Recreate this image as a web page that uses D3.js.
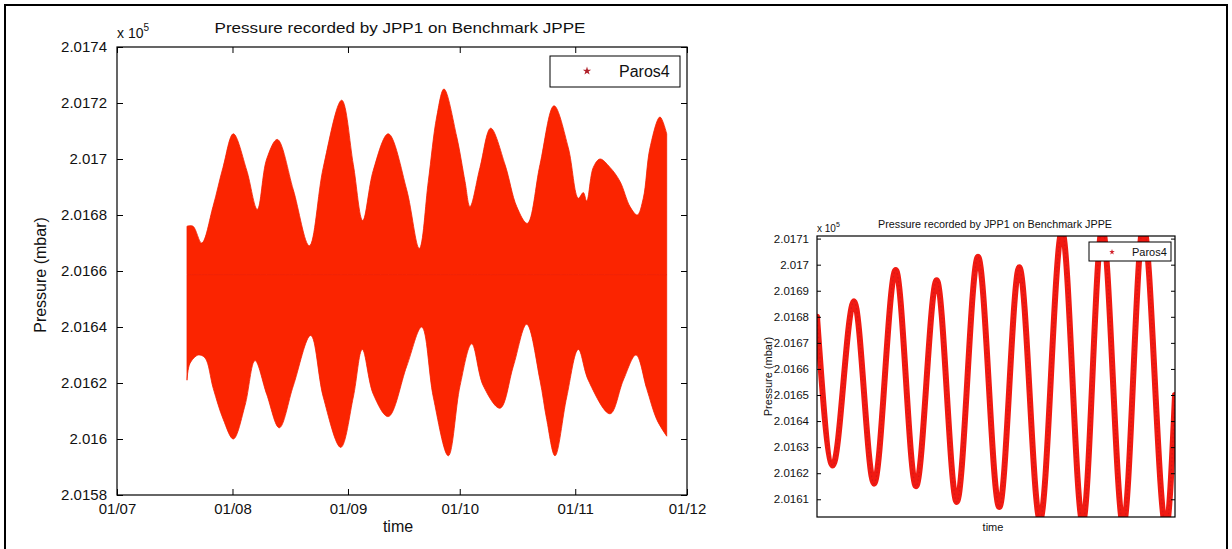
<!DOCTYPE html>
<html>
<head>
<meta charset="utf-8">
<script src="https://cdn.jsdelivr.net/npm/d3@7"></script>
<style>
  html, body { margin: 0; padding: 0; background: #fff; }
  svg { display: block; font-family: "Liberation Sans", Arial, Helvetica, sans-serif; }
</style>
</head>
<body>
<svg id="chart" width="1232" height="549"></svg>
<script>
// ---- Long record: envelope of Paros4 pressure (mbar), days since 1 July ----
const seriesName = "Paros4";
const chartTitle = "Pressure recorded by JPP1 on Benchmark JPPE";
const yLabel = "Pressure (mbar)";
const xLabel = "time";

const upperDays = [18.79, 20.40, 22.73, 25.77, 28.45, 31.22, 34.81, 37.66, 40.18, 43.03,
  47.32, 51.62, 55.37, 60.31, 63.43, 65.95, 68.80, 72.82, 77.76, 81.14,
  83.56, 85.81, 87.77, 91.18, 93.41, 94.75, 97.44, 100.31, 104.15, 107.29,
  110.13, 113.54, 117.30, 121.14, 123.82, 125.16, 126.08, 127.85, 129.65, 132.33,
  135.01, 137.70, 139.66, 141.27, 143.07, 145.75, 147.55];
const upperValues = [201676, 201676, 201670, 201683, 201697, 201709, 201696, 201682, 201700, 201707,
  201689, 201669, 201697, 201721, 201698, 201678, 201696, 201709, 201689, 201668,
  201692, 201715, 201725, 201708, 201692, 201683, 201697, 201711, 201698, 201683,
  201677, 201698, 201719, 201704, 201686, 201688, 201685, 201697, 201700, 201697,
  201692, 201683, 201680, 201686, 201704, 201715, 201709];

const lowerDays = [18.79, 19.59, 21.82, 23.62, 25.85, 28.53, 31.22, 34.36, 37.04, 40.18,
  43.56, 47.32, 51.99, 55.37, 60.05, 63.43, 65.84, 68.80, 72.82, 77.76,
  81.79, 84.90, 88.93, 92.07, 95.21, 98.32, 102.81, 106.38, 109.97, 113.54,
  115.34, 117.57, 120.71, 123.82, 126.51, 132.33, 135.90, 139.31, 142.18, 144.87,
  147.55];
const lowerValues = [201621, 201627, 201630, 201629, 201618, 201607, 201600, 201612, 201628, 201616,
  201604, 201619, 201637, 201615, 201597, 201615, 201632, 201616, 201608, 201626,
  201640, 201615, 201594, 201619, 201634, 201619, 201611, 201626, 201641, 201621,
  201607, 201594, 201615, 201632, 201621, 201609, 201621, 201630, 201618, 201607,
  201601];

const monthTicks = ["2010-07-01", "2010-08-01", "2010-09-01", "2010-10-01", "2010-11-01", "2010-12-01"];
const leftYTicks = [201580, 201600, 201620, 201640, 201660, 201680, 201700, 201720, 201740];

// ---- Short record: tidal signal, hours from start of window ----
const tideHours = [0, 4.72, 11.13, 17.14, 23.67, 29.77, 36.0, 42.02, 48.42, 54.83,
  60.84, 67.07, 73.68, 79.91, 85.8, 92.12, 98.14, 104.96, 107.67];
const tideValues = [201680, 201623, 201686, 201616, 201698, 201615, 201694, 201609, 201703, 201607,
  201699, 201602, 201713, 201601, 201714, 201600, 201715, 201599, 201650];
const rightYTicks = [201610, 201620, 201630, 201640, 201650, 201660, 201670, 201680, 201690, 201700, 201710];

// ---------------------------------------------------------------------------
const svg = d3.select("#chart");
const fmt = d3.format(".4~f");
const tickFmt = v => fmt(v / 1e5);
const parseDay = d3.timeParse("%Y-%m-%d");
const origin = parseDay(monthTicks[0]);
const dayToDate = d => new Date(origin.getTime() + d * 864e5);

// page frame
svg.append("rect").attr("x", 5).attr("y", 5).attr("width", 1222).attr("height", 560)
  .attr("fill", "none").attr("stroke", "#000").attr("stroke-width", 2);

function drawAxesBox(g, box, xs, ys, xTickVals, yTickVals, tickLen, fontSize, showXLabels) {
  const { left, top, right, bottom } = box;
  const yAxis = d3.axisLeft(ys).tickValues(yTickVals).tickFormat(tickFmt)
    .tickSizeInner(-tickLen).tickSizeOuter(0).tickPadding(tickLen + 4);
  const ya = g.append("g").attr("transform", `translate(${left},0)`).call(yAxis);
  const yAxisR = d3.axisRight(ys).tickValues(yTickVals).tickFormat("")
    .tickSizeInner(-tickLen).tickSizeOuter(0);
  const yb = g.append("g").attr("transform", `translate(${right},0)`).call(yAxisR);
  const groups = [ya, yb];
  if (xTickVals.length) {
    const xAxis = d3.axisBottom(xs).tickValues(xTickVals).tickFormat(showXLabels ? d3.timeFormat("%d/%m") : "")
      .tickSizeInner(-tickLen).tickSizeOuter(0).tickPadding(tickLen + 4);
    const xa = g.append("g").attr("transform", `translate(0,${bottom})`).call(xAxis);
    const xAxisT = d3.axisTop(xs).tickValues(xTickVals).tickFormat("")
      .tickSizeInner(-tickLen).tickSizeOuter(0);
    const xt = g.append("g").attr("transform", `translate(0,${top})`).call(xAxisT);
    groups.push(xa, xt);
  }
  groups.forEach(a => {
    a.select(".domain").remove();
    a.selectAll("line").attr("stroke", "#000").attr("stroke-width", 1);
    a.selectAll("text").attr("fill", "#111").style("font-size", fontSize + "px")
      .style("font-family", "'Liberation Sans', Arial, sans-serif");
  });
  g.append("rect").attr("x", left).attr("y", top).attr("width", right - left).attr("height", bottom - top)
    .attr("fill", "none").attr("stroke", "#000").attr("stroke-width", 1.2);
  return groups;
}

// ================= Left panel =================
{
  const box = { left: 117, top: 47, right: 687, bottom: 495 };
  const x = d3.scaleTime().domain([parseDay(monthTicks[0]), parseDay(monthTicks[monthTicks.length - 1])])
    .range([box.left, box.right]);
  const y = d3.scaleLinear().domain([leftYTicks[0], leftYTicks[leftYTicks.length - 1]])
    .range([box.bottom, box.top]);
  const g = svg.append("g");

  g.append("clipPath").attr("id", "clipL").append("rect")
    .attr("x", box.left).attr("y", box.top).attr("width", box.right - box.left).attr("height", box.bottom - box.top);

  const upper = upperDays.map((d, i) => ({ t: dayToDate(d), v: upperValues[i] }));
  const lower = lowerDays.map((d, i) => ({ t: dayToDate(d), v: lowerValues[i] }));
  // the band is filled from each envelope towards the series mean, so both halves overlap
  const mid = d3.mean(upperValues.concat(lowerValues));
  const band = d3.area().x(d => x(d.t)).y0(y(mid)).y1(d => y(d.v)).curve(d3.curveCatmullRom.alpha(0.5));
  [upper, lower].forEach(env => {
    g.append("path").attr("clip-path", "url(#clipL)").attr("d", band(env))
      .attr("fill", "#fb2400").attr("stroke", "#f22000").attr("stroke-width", 0.8);
  });

  const axes = drawAxesBox(g, box, x, y, monthTicks.map(parseDay), leftYTicks, 6, 15, true);
  axes[2].selectAll("text").attr("dy", "0.6em");

  g.append("text").attr("x", 400).attr("y", 33).attr("text-anchor", "middle")
    .attr("textLength", 371).attr("lengthAdjust", "spacingAndGlyphs")
    .style("font-size", "15px").attr("fill", "#111").text(chartTitle);
  const m = g.append("text").attr("x", 117).attr("y", 38).style("font-size", "14px").attr("fill", "#111");
  m.append("tspan").text("x 10");
  m.append("tspan").attr("dy", -7).style("font-size", "10px").text("5");
  g.append("text").attr("transform", `translate(46,${(box.top + box.bottom) / 2 + 4}) rotate(-90)`)
    .attr("text-anchor", "middle").style("font-size", "16px").attr("fill", "#111").text(yLabel);
  g.append("text").attr("x", 398).attr("y", 532).attr("text-anchor", "middle")
    .style("font-size", "16px").attr("fill", "#111").text(xLabel);

  g.append("rect").attr("x", 550).attr("y", 56).attr("width", 130).attr("height", 31)
    .attr("fill", "#fff").attr("stroke", "#000").attr("stroke-width", 1);
  g.append("path").attr("d", d3.symbol(d3.symbolStar, 22)()).attr("transform", "translate(587,71)")
    .attr("fill", "#b0202a");
  g.append("text").attr("x", 619).attr("y", 77).style("font-size", "16px").attr("fill", "#111").text(seriesName);
}

// ================= Right panel =================
{
  const box = { left: 817, top: 236, right: 1175, bottom: 517 };
  const x = d3.scaleLinear().domain([tideHours[0], tideHours[tideHours.length - 1]]).range([box.left, box.right]);
  const y = d3.scaleLinear().domain([201603.2, 201711]).range([box.bottom, box.top]);
  const g = svg.append("g");

  g.append("clipPath").attr("id", "clipR").append("rect")
    .attr("x", box.left).attr("y", box.top).attr("width", box.right - box.left).attr("height", box.bottom - box.top);

  const pts = tideHours.map((h, i) => ({ h, v: tideValues[i] }));
  const line = d3.line().x(d => x(d.h)).y(d => y(d.v)).curve(d3.curveMonotoneX);
  g.append("path").attr("clip-path", "url(#clipR)").attr("d", line(pts))
    .attr("fill", "none").attr("stroke", "#f01a12").attr("stroke-width", 6)
    .attr("stroke-linejoin", "round").attr("stroke-linecap", "round");
  g.append("path").attr("clip-path", "url(#clipR)").attr("d", line(pts))
    .attr("fill", "none").attr("stroke", "#c8141a").attr("stroke-width", 1.2)
    .attr("stroke-dasharray", "1.5 2.5").attr("opacity", 0.6);

  drawAxesBox(g, box, x, y, [], rightYTicks, 4, 11.5, false);

  g.append("text").attr("x", 995).attr("y", 228).attr("text-anchor", "middle")
    .attr("textLength", 234).attr("lengthAdjust", "spacingAndGlyphs")
    .style("font-size", "10px").attr("fill", "#111").text(chartTitle);
  const m = g.append("text").attr("x", 817).attr("y", 232).style("font-size", "10px").attr("fill", "#111");
  m.append("tspan").text("x 10");
  m.append("tspan").attr("dy", -5).style("font-size", "7px").text("5");
  g.append("text").attr("transform", `translate(772,${(box.top + box.bottom) / 2}) rotate(-90)`)
    .attr("text-anchor", "middle").style("font-size", "11px").attr("fill", "#111").text(yLabel);
  g.append("text").attr("x", 993).attr("y", 531).attr("text-anchor", "middle")
    .style("font-size", "11px").attr("fill", "#111").text(xLabel);

  g.append("rect").attr("x", 1089).attr("y", 242).attr("width", 82).attr("height", 19)
    .attr("fill", "#fff").attr("stroke", "#000").attr("stroke-width", 1);
  g.append("path").attr("d", d3.symbol(d3.symbolStar, 10)()).attr("transform", "translate(1112,252)")
    .attr("fill", "#d0202a");
  g.append("text").attr("x", 1132).attr("y", 256).style("font-size", "11px").attr("fill", "#111").text(seriesName);
}
</script>
</body>
</html>
